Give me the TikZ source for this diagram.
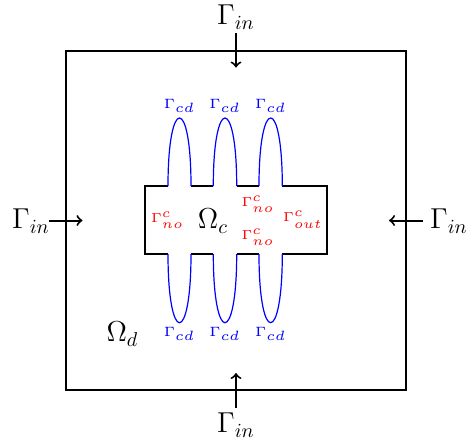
\documentclass[tikz,border=0pt]{standalone}
\begin{document}
\begin{tikzpicture}[x=0.5pt,y=-0.5pt,
  big/.style={font=\fontsize{14.4}{17}\selectfont, inner sep=0pt},
  cd/.style={font=\fontsize{5}{6}\selectfont, text=blue, inner sep=0pt, scale=1.35, transform shape},
  rl/.style={font=\fontsize{5}{6}\selectfont, text=red, inner sep=0pt, scale=1.3, transform shape},
  wall/.style={line width=1pt, black},
  inflow/.style={line width=1pt, ->},
  arch/.style={blue, line width=0.6pt}]
\useasboundingbox (0,0) rectangle (467,441);
% outer domain
\draw[wall] (66,50.5) rectangle (406,390);
% inflow arrows
\coordinate (tA) at (236,33); \coordinate (tB) at (236,67.5);
\coordinate (bA) at (236,407.5); \coordinate (bB) at (236,373);
\coordinate (lA) at (49,220.5); \coordinate (lB) at (82.5,220.5);
\coordinate (rA) at (423,220.5); \coordinate (rB) at (389,220.5);
\draw[inflow] (tA) -- (tB);
\draw[inflow] (bA) -- (bB);
\draw[inflow] (lA) -- (lB);
\draw[inflow] (rA) -- (rB);
\node[big] (gT) at (236,17) {$\Gamma_{in}$};
\node[big] (gB) at (236,425) {$\Gamma_{in}$};
\node[big] (gL) at (31,221) {$\Gamma_{in}$};
\node[big] (gR) at (449,221) {$\Gamma_{in}$};
% inner domain walls
\draw[wall] (168,186) -- (145,186) -- (145,254) -- (168,254);
\draw[wall] (191,254) -- (213.3,254);
\draw[wall] (236.7,254) -- (259,254);
\draw[wall] (282.3,254) -- (327.3,254) -- (327.3,186) -- (282.3,186);
\draw[wall] (259,186) -- (236.7,186);
\draw[wall] (213.3,186) -- (191,186);
% arches
\foreach \a/\b in {168/191, 213.3/236.7, 259/282.3}{
  \draw[arch] (\a,186) .. controls (\a,95.3) and (\b,95.3) .. (\b,186);
  \draw[arch] (\a,254) .. controls (\a,345.6) and (\b,345.6) .. (\b,254);
}
% labels
\node[cd] (c1) at (179.5,106) {$\Gamma_{cd}$};
\node[cd] (c2) at (225,106) {$\Gamma_{cd}$};
\node[cd] (c3) at (270.7,106) {$\Gamma_{cd}$};
\node[cd] (c4) at (179.5,334) {$\Gamma_{cd}$};
\node[cd] (c5) at (225,334) {$\Gamma_{cd}$};
\node[cd] (c6) at (270.7,334) {$\Gamma_{cd}$};
\node[rl] (n1) at (167.5,220) {$\Gamma^c_{no}$};
\node[rl] (n2) at (258,204) {$\Gamma^c_{no}$};
\node[rl] (n3) at (258,237) {$\Gamma^c_{no}$};
\node[rl] (o1) at (303,220) {$\Gamma^c_{out}$};
\node[big] (oc) at (213,221) {$\Omega_c$};
\node[big] (od) at (122.5,334) {$\Omega_d$};
\end{tikzpicture}
\end{document}
